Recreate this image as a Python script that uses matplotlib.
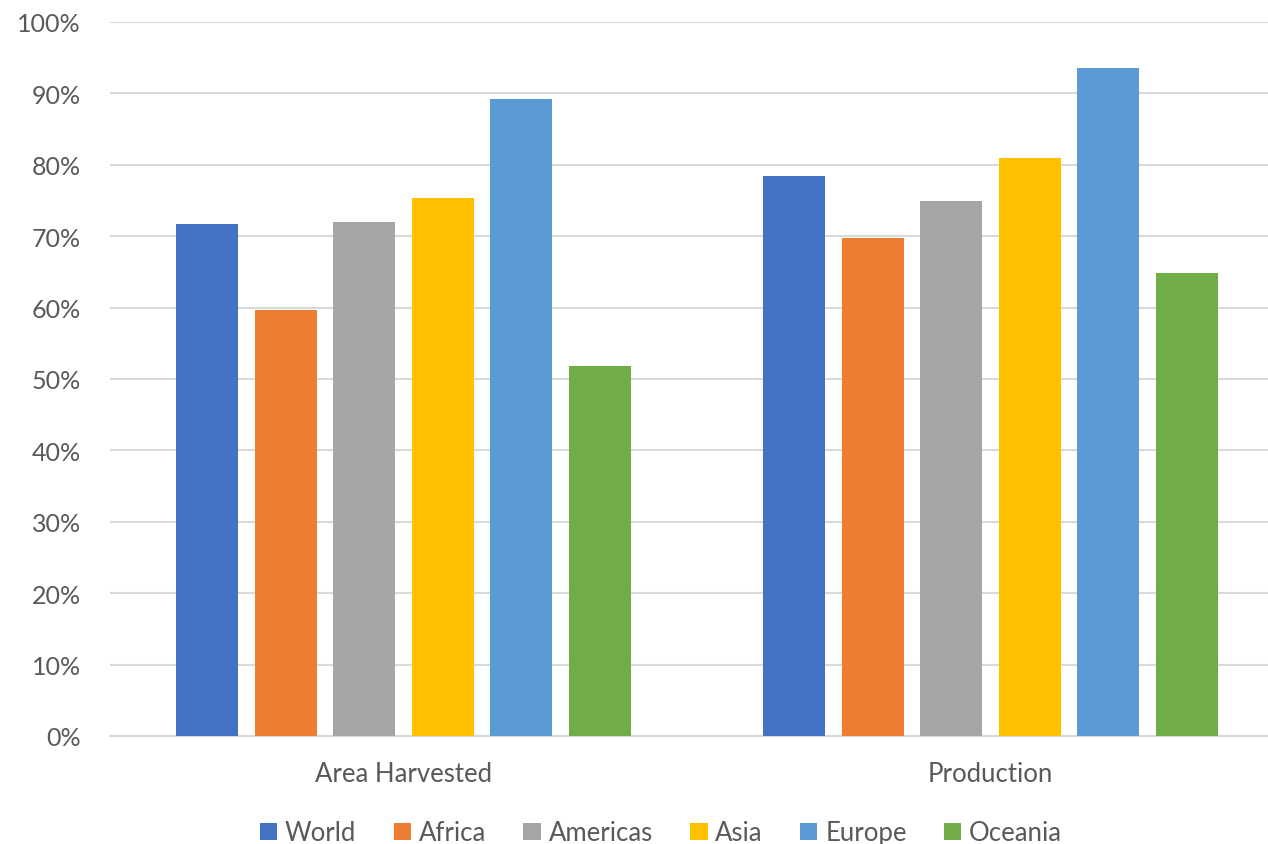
import matplotlib.pyplot as plt
import numpy as np
from matplotlib.ticker import FuncFormatter

# Datos
categorias = ["Area Harvested", "Production"]
regiones = ["World", "Africa", "Americas", "Asia", "Europe", "Oceania"]
world = [0.717, 0.784]
africa = [0.597, 0.698]
americas = [0.720, 0.750]
asia = [0.754, 0.809]
europe = [0.892, 0.935]
oceania = [0.518, 0.648]
series = [world, africa, americas, asia, europe, oceania]
colores = ["#4472C4", "#ED7D31", "#A5A5A5", "#FFC000", "#5B9BD5", "#70AD47"]

plt.rcParams['font.family'] = ['Lato', 'DejaVu Sans']
gris = "#595959"

W, H = 1268, 845
fig = plt.figure(figsize=(W / 100, H / 100), dpi=100)
# El eje se extiende un poco más allá del borde derecho (como en el original recortado)
ax = fig.add_axes([110 / W, (H - 737) / H, (1284 - 110) / W, 714 / H])

x = np.arange(len(categorias))
ancho = 0.1056
paso = 0.1337
for i, (nombre, valores) in enumerate(zip(regiones, series)):
    offset = (i - (len(regiones) - 1) / 2) * paso
    ax.bar(x + offset, valores, width=ancho, color=colores[i], label=nombre, zorder=3)

ax.set_xlim(-0.5, 1.5)
ax.set_ylim(0, 1)
ax.set_yticks(np.arange(0, 1.01, 0.1))
ax.yaxis.set_major_formatter(FuncFormatter(lambda v, p: f"{v * 100:.0f}%"))
ax.set_xticks(x)
ax.set_xticklabels(categorias)

ax.grid(axis="y", color="#D9D9D9", linewidth=1.5, zorder=0)
for lado in ["top", "right", "left"]:
    ax.spines[lado].set_visible(False)
ax.spines["bottom"].set_color("#D9D9D9")
ax.spines["bottom"].set_linewidth(1.5)
ax.tick_params(axis="y", length=0, pad=21, labelsize=18, labelcolor=gris)
ax.tick_params(axis="x", length=0, pad=18, labelsize=18.5, labelcolor=gris)

leg = fig.legend(loc="center", bbox_to_anchor=(661 / W, (H - 834) / H), ncol=6,
                 frameon=False, fontsize=18.5, handlelength=0.68, handleheight=0.68,
                 handletextpad=0.3, columnspacing=1.45, labelcolor=gris)

plt.savefig("out.png", dpi=100)
plt.close()
